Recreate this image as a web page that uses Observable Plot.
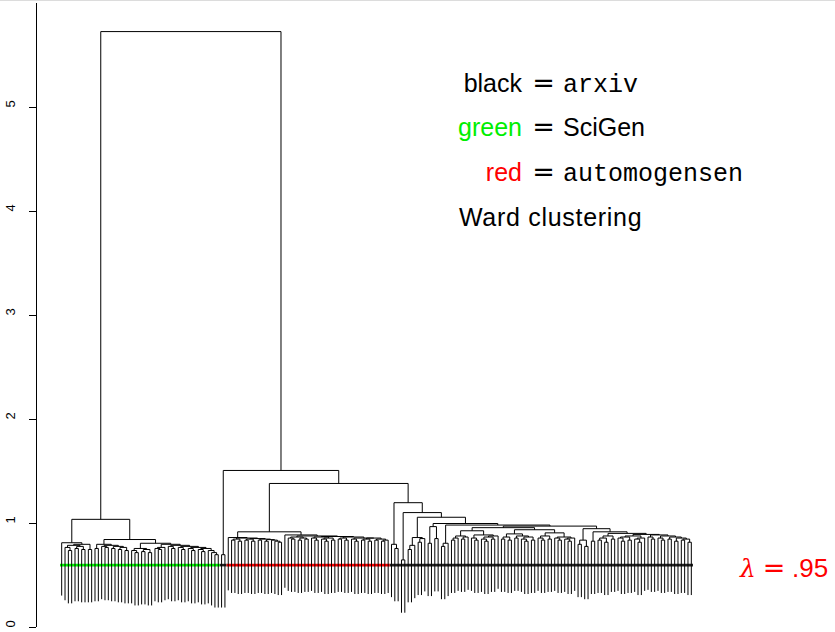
<!DOCTYPE html>
<html>
<head>
<meta charset="utf-8">
<script src="https://cdn.jsdelivr.net/npm/d3@7"></script>
<script src="https://cdn.jsdelivr.net/npm/@observablehq/plot@0.6"></script>
<style>
  html, body { margin: 0; padding: 0; background: #fff; }
  #wrap { position: relative; width: 835px; height: 632px; overflow: hidden; }
  #topline { position: absolute; left: 0; top: 0; width: 835px; height: 1px; background: #dcdcdc; }
</style>
</head>
<body>
<div id="wrap"><div id="chart"></div><div id="topline"></div></div>
<script>
// ---- data: dendrogram encoded as merge heights between neighbouring leaves (leaf order) ----
// SciGen leaves (green), 48 leaves -> 47 neighbour merge heights
const sciGenGaps = [0.815,0.77,0.74,0.79,0.76,0.78,0.75,0.80,0.75,1.04,
  0.76,0.80,0.78,0.77,0.79,0.76,0.78,0.75,0.77,0.74,0.846,
  0.74,0.72,0.76,0.73,0.75,0.72,0.81,
  0.76,0.75,0.77,0.80,0.78,0.76,0.79,0.77,0.75,0.78,0.76,0.74,0.77,0.75,0.73,0.76,0.74,0.72,0.70];
// two arxiv leaves that sit between SciGen and automogensen
const pairGaps = [0.70];
// automogensen leaves (red), 49 leaves -> 48 heights
const automogensenGaps = [0.865,
  0.84,0.85,0.83,0.86,0.84,0.85,0.83,0.855,0.84,0.85,0.83,0.845,0.84,0.83,0.82,
  0.92, 0.89,
  0.86,0.85,0.87,0.84,0.86,0.85,0.88,0.86,0.84,0.87,0.85,0.83,0.86,0.84,0.875,
  0.85,0.86,0.84,0.87,0.85,0.83,0.86,0.84,0.85,0.83,0.86,0.84,0.85,0.83,0.84];
// arxiv leaves (black), 91 leaves -> 90 heights
const arxivGaps = [0.80,0.76,1.20,0.65,1.105,0.75,0.79,0.865,0.82,0.855,1.06,0.81,0.97,0.855,1.00,0.78,0.81,0.985,
  0.84,0.86,0.88,0.85,0.87, 0.93,
  0.86,0.84,0.89,0.85,0.83,0.87,0.85,0.88, 0.96,
  0.85,0.87,0.84,0.90,0.86,0.88,0.85,0.83,0.87,0.84, 0.94,
  0.86,0.84,0.88,0.85,0.91,0.86,0.84,0.87,0.85,0.83,0.86, 0.975,
  0.80,0.84,0.78, 0.95, 0.83, 0.92,
  0.84,0.86,0.82,0.88,0.85, 0.905,
  0.86,0.83,0.87,0.84,0.88,0.85,0.82,0.86, 0.895,
  0.87,0.85,0.89,0.86,0.84,0.88,0.85,0.87,0.83,0.86,0.84,0.85,0.82];
// heights where the groups join
const rootHeight = 5.73;       // SciGen | everything else
const pairJoinHeight = 1.51;   // arxiv pair | (automogensen + arxiv)
const redBlackHeight = 1.385;  // automogensen | arxiv
// groups in leaf order
const groupNames  = ["SciGen", "arxiv", "automogensen", "arxiv"];
const groupSizes  = [48, 2, 49, 91];
const groupColors = ["#00ff00", "#222222", "#ff0000", "#222222"];
const cutHeight = 0.6;
const yTicks = [0, 1, 2, 3, 4, 5];
const yMax = 6;

// ---- build dendrogram segments from the neighbour heights ----
const gaps = [...sciGenGaps, rootHeight, ...pairGaps, pairJoinHeight, ...automogensenGaps, redBlackHeight, ...arxivGaps];
const n = gaps.length + 1;
const hang = 0.1 * (d3.max(gaps) - d3.min(gaps));
const segs = [];
function build(lo, hi) {
  if (lo === hi) return {x: lo, leaf: true};
  let k = lo;
  for (let i = lo; i < hi; i++) if (gaps[i] > gaps[k]) k = i;
  const L = build(lo, k), R = build(k + 1, hi), h = gaps[k];
  segs.push({x1: L.x, x2: R.x, y1: h, y2: h});
  for (const c of [L, R]) segs.push({x1: c.x, x2: c.x, y1: h, y2: c.leaf ? h - hang : c.h});
  return {x: (L.x + R.x) / 2, h};
}
build(0, n - 1);

// cut line pieces, one per group
const cutSegs = [];
let start = 0;
groupSizes.forEach((s, i) => {
  cutSegs.push({x1: start - 0.5, x2: start + s - 0.5, y: cutHeight, color: groupColors[i], name: groupNames[i]});
  start += s;
});

const xPad = 0.04 * (n - 1);
const xMin = -xPad, xMax = (n - 1) + xPad;

const chart = Plot.plot({
  width: 835,
  height: 632,
  marginLeft: 36,
  marginRight: 119,
  marginTop: 3,
  marginBottom: 5,
  style: {background: "transparent", fontFamily: "Liberation Sans, Arial, sans-serif"},
  x: {domain: [xMin, xMax], axis: null},
  y: {domain: [0, yMax]},
  marks: [
    Plot.ruleX([xMin], {y1: 0, y2: yMax, stroke: "#000", strokeWidth: 1}),
    Plot.axisY(yTicks, {anchor: "left", tickSize: 7, tickFormat: () => "", stroke: "#000"}),
    Plot.text(yTicks, {y: d => d, text: d => String(d), frameAnchor: "left", dx: -26, rotate: -90, fontSize: 13, fill: "#000"}),
    ...cutSegs.map(c => Plot.link([c], {x1: "x1", x2: "x2", y1: "y", y2: "y", stroke: c.color, strokeWidth: 2.6})),
    Plot.link(segs, {x1: "x1", x2: "x2", y1: "y1", y2: "y2", stroke: "#000", strokeWidth: 1})
  ]
});
document.getElementById("chart").appendChild(chart);

// ---- legend annotations ----
const svg = d3.select(chart);
const sans = "Liberation Sans, Arial, sans-serif";
const mono = "Liberation Mono, Courier New, monospace";
const eqFont = "DejaVu Sans, sans-serif";
const rows = [
  {left: "black", leftColor: "#000", right: "arxiv", rightFont: mono, y: 92},
  {left: "green", leftColor: "#00ee00", right: "SciGen", rightFont: sans, y: 136},
  {left: "red", leftColor: "#ff0000", right: "automogensen", rightFont: mono, y: 181}
];
rows.forEach(r => {
  svg.append("text").attr("x", 522).attr("y", r.y).attr("text-anchor", "end")
    .attr("font-family", sans).attr("font-size", 25).attr("fill", r.leftColor).text(r.left);
  svg.append("text").attr("x", 543.5).attr("y", r.y).attr("text-anchor", "middle")
    .attr("font-family", eqFont).attr("font-size", 27).attr("fill", "#000").text("=");
  svg.append("text").attr("x", 563).attr("y", r.y).attr("text-anchor", "start")
    .attr("font-family", r.rightFont).attr("font-size", 25).attr("fill", "#000").text(r.right);
});
svg.append("text").attr("x", 459).attr("y", 226).attr("text-anchor", "start").attr("font-family", sans).attr("font-size", 25)
  .attr("letter-spacing", "0.7px").attr("fill", "#000").text("Ward clustering");

// lambda label
svg.append("text").attr("x", 740).attr("y", 577).attr("text-anchor", "start").attr("font-family", "DejaVu Serif, serif")
  .attr("font-style", "italic").attr("font-size", 25).attr("fill", "#ff0000").text("λ");
svg.append("text").attr("x", 774).attr("y", 577).attr("text-anchor", "middle").attr("font-family", eqFont)
  .attr("font-size", 27).attr("fill", "#ff0000").text("=");
svg.append("text").attr("x", 792).attr("y", 577).attr("text-anchor", "start").attr("font-family", sans)
  .attr("font-size", 26).attr("fill", "#ff0000").text(".95");
</script>
</body>
</html>
